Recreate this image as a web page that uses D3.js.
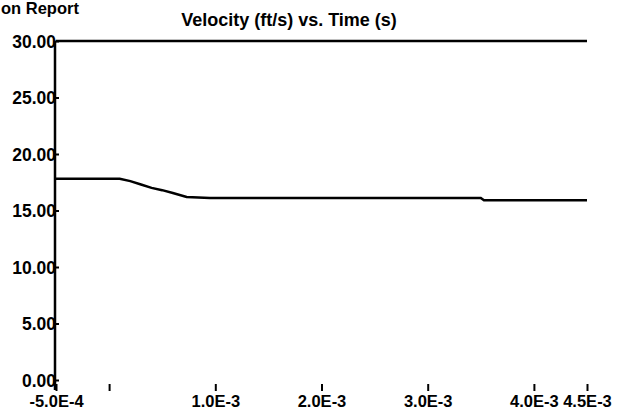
<!DOCTYPE html>
<html>
<head>
<meta charset="utf-8">
<script src="https://cdn.jsdelivr.net/npm/d3@7"></script>
<style>
  html, body { margin: 0; padding: 0; background: #fff; }
  svg { display: block; }
  text { font-family: "Liberation Sans", Arial, sans-serif; font-weight: bold; fill: #000; }
</style>
</head>
<body>
<svg id="chart" width="619" height="414"></svg>
<script>
// ---- data ----
const reportTitle = "on Report";
const chartTitle = "Velocity (ft/s) vs. Time (s)";
const timeValues = [-5.0e-4, 1.0e-4, 2.0e-4, 3.0e-4, 4.0e-4, 5.0e-4, 6.0e-4, 7.3e-4, 9.5e-4, 3.50e-3, 3.53e-3, 4.5e-3];
const velocityValues = [17.8, 17.8, 17.6, 17.3, 17.0, 16.8, 16.55, 16.2, 16.1, 16.1, 15.9, 15.9];
const upperTime = [-5.0e-4, 4.5e-3];
const upperValues = [30.0, 30.0];
const xTickValues = [-5.0e-4, 0, 1.0e-3, 2.0e-3, 3.0e-3, 4.0e-3, 4.5e-3];
const xTickLabels = ["-5.0E-4", "", "1.0E-3", "2.0E-3", "3.0E-3", "4.0E-3", "4.5E-3"];
const yTickValues = [0, 5, 10, 15, 20, 25, 30];
const yTickLabels = ["0.00", "5.00", "10.00", "15.00", "20.00", "25.00", "30.00"];

// ---- layout ----
const svg = d3.select("#chart");
const x = d3.scaleLinear().domain([-5.0e-4, 4.5e-3]).range([56, 587]);
const y = d3.scaleLinear().domain([0, 30]).range([380, 41]);
const axisX = 55;

// titles
svg.append("text").attr("x", 1).attr("y", 14)
  .style("font-size", "16.5px").text(reportTitle);
svg.append("text").attr("x", 289).attr("y", 26).attr("text-anchor", "middle")
  .style("font-size", "18px").text(chartTitle);

// y axis
const yAxis = d3.axisLeft(y).tickValues(yTickValues)
  .tickFormat((d, i) => yTickLabels[i]).tickSize(-4).tickPadding(-1);
const gy = svg.append("g").attr("transform", `translate(${axisX},0)`).call(yAxis);
gy.select(".domain").remove();
gy.selectAll(".tick line").attr("stroke", "#000").attr("stroke-width", 2);
gy.selectAll(".tick text").style("font-size", "17.5px").attr("dy", "0.36em");
svg.append("line").attr("x1", axisX).attr("x2", axisX)
  .attr("y1", y(30)).attr("y2", y(0) + 10)
  .attr("stroke", "#000").attr("stroke-width", 2.5);

// x axis (ticks and labels only)
const xAxis = d3.axisBottom(x).tickValues(xTickValues)
  .tickFormat((d, i) => xTickLabels[i]).tickSize(7).tickPadding(4);
const gx = svg.append("g").attr("transform", `translate(0,${y(0) + 4})`).call(xAxis);
gx.select(".domain").remove();
gx.selectAll(".tick line").attr("stroke", "#000").attr("stroke-width", 2);
gx.selectAll(".tick text").style("font-size", "16.5px");

// lines
const line = d3.line().x(d => x(d[0])).y(d => y(d[1]));
svg.append("path").datum(upperTime.map((t, i) => [t, upperValues[i]]))
  .attr("d", line).attr("fill", "none").attr("stroke", "#000").attr("stroke-width", 2.5);
svg.append("path").datum(timeValues.map((t, i) => [t, velocityValues[i]]))
  .attr("d", line).attr("fill", "none").attr("stroke", "#000").attr("stroke-width", 2.5);
</script>
</body>
</html>
